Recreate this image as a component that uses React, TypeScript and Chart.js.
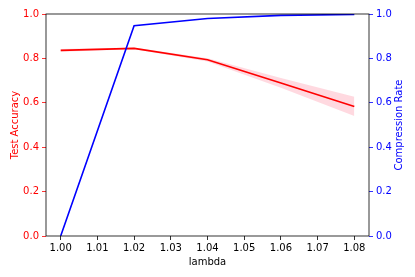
import React, { useEffect, useRef } from "react";
import { Chart, registerables } from "chart.js";

Chart.register(...registerables);

const lambdas = [1.0, 1.02, 1.04, 1.06, 1.08];
const accuracy = [0.836, 0.845, 0.794, 0.689, 0.583];
const accuracyUpper = [0.842, 0.849, 0.801, 0.712, 0.627];
const accuracyLower = [0.83, 0.841, 0.786, 0.668, 0.541];
const compression = [0.0, 0.947, 0.98, 0.994, 0.998];
const xTicks = [1.0, 1.01, 1.02, 1.03, 1.04, 1.05, 1.06, 1.07, 1.08];
const yTicks = [0, 0.2, 0.4, 0.6, 0.8, 1.0];
const rightTitle = "Compression Rate";

const FONT = "'DejaVu Sans', sans-serif";

const pts = (ys: number[]) => lambdas.map((x, i) => ({ x, y: ys[i] }));

const framePlugin = {
  id: "frame",
  afterDatasetsDraw(chart: any) {
    const { ctx, chartArea: a } = chart;
    ctx.save();
    ctx.strokeStyle = "#000";
    ctx.lineWidth = 0.8;
    ctx.strokeRect(a.left, a.top, a.right - a.left, a.bottom - a.top);
    ctx.restore();
  },
  afterDraw(chart: any) {
    const { ctx, chartArea: a } = chart;
    ctx.save();
    ctx.translate(399, (a.top + a.bottom) / 2);
    ctx.rotate(-Math.PI / 2);
    ctx.fillStyle = "#0000ff";
    ctx.font = `10px ${FONT}`;
    ctx.textAlign = "center";
    ctx.textBaseline = "middle";
    ctx.fillText(rightTitle, 0, 0);
    ctx.restore();
  },
};

export default function App() {
  const ref = useRef<HTMLCanvasElement>(null);
  useEffect(() => {
    const chart = new Chart(ref.current!, {
      type: "line",
      data: {
        datasets: [
          {
            data: pts(accuracyUpper),
            borderWidth: 0,
            pointRadius: 0,
            fill: "+1",
            backgroundColor: "rgba(255,192,203,0.6)",
            borderColor: "rgba(0,0,0,0)",
            yAxisID: "y",
            order: 3,
          },
          {
            data: pts(accuracyLower),
            borderWidth: 0,
            pointRadius: 0,
            fill: false,
            borderColor: "rgba(0,0,0,0)",
            yAxisID: "y",
            order: 3,
          },
          {
            data: pts(accuracy),
            borderColor: "#ff0000",
            borderWidth: 1.6,
            pointRadius: 0,
            fill: false,
            yAxisID: "y",
            order: 2,
          },
          {
            data: pts(compression),
            borderColor: "#0000ff",
            borderWidth: 1.6,
            pointRadius: 0,
            fill: false,
            yAxisID: "y1",
            order: 1,
          },
        ],
      },
      options: {
        responsive: false,
        animation: false,
        layout: { padding: { top: 14, left: 0, right: 0, bottom: 0 } },
        plugins: { legend: { display: false }, tooltip: { enabled: false } },
        scales: {
          x: {
            type: "linear",
            min: 0.996,
            max: 1.084,
            afterBuildTicks: (s: any) => {
              s.ticks = xTicks.map((v) => ({ value: v }));
            },
            afterFit: (s: any) => {
              s.height = 41;
            },
            border: { display: false },
            grid: { drawOnChartArea: false, drawTicks: true, tickLength: 4, color: "#000", lineWidth: 0.8 },
            ticks: {
              color: "#000",
              font: { family: FONT, size: 10 },
              padding: 2,
              maxRotation: 0,
              autoSkip: false,
              callback: (v: any) => Number(v).toFixed(2),
            },
            title: { display: true, text: "lambda", color: "#000", font: { family: FONT, size: 10 }, padding: { top: 0, bottom: 9 } },
          },
          y: {
            position: "left",
            min: 0,
            max: 1,
            afterBuildTicks: (s: any) => {
              s.ticks = yTicks.map((v) => ({ value: v }));
            },
            afterFit: (s: any) => {
              s.width = 46;
            },
            border: { display: false },
            grid: { drawOnChartArea: false, drawTicks: true, tickLength: 4, color: "#ff0000", lineWidth: 0.8 },
            ticks: {
              color: "#ff0000",
              font: { family: FONT, size: 10 },
              padding: 3,
              callback: (v: any) => Number(v).toFixed(1),
            },
            title: { display: true, text: "Test Accuracy", color: "#ff0000", font: { family: FONT, size: 10 }, padding: { top: 9, bottom: 0 } },
          },
          y1: {
            position: "right",
            min: 0,
            max: 1,
            afterBuildTicks: (s: any) => {
              s.ticks = yTicks.map((v) => ({ value: v }));
            },
            afterFit: (s: any) => {
              s.width = 46;
            },
            border: { display: false },
            grid: { drawOnChartArea: false, drawTicks: true, tickLength: 4, color: "#0000ff", lineWidth: 0.8 },
            ticks: {
              color: "#0000ff",
              font: { family: FONT, size: 10 },
              padding: 3,
              callback: (v: any) => Number(v).toFixed(1),
            },
            title: { display: false },
          },
        },
      },
      plugins: [framePlugin],
    });
    return () => chart.destroy();
  }, []);
  return (
    <div style={{ position: "fixed", left: 0, top: 0, width: 415, height: 277, background: "#fff" }}>
      <canvas ref={ref} width={415} height={277} />
    </div>
  );
}
